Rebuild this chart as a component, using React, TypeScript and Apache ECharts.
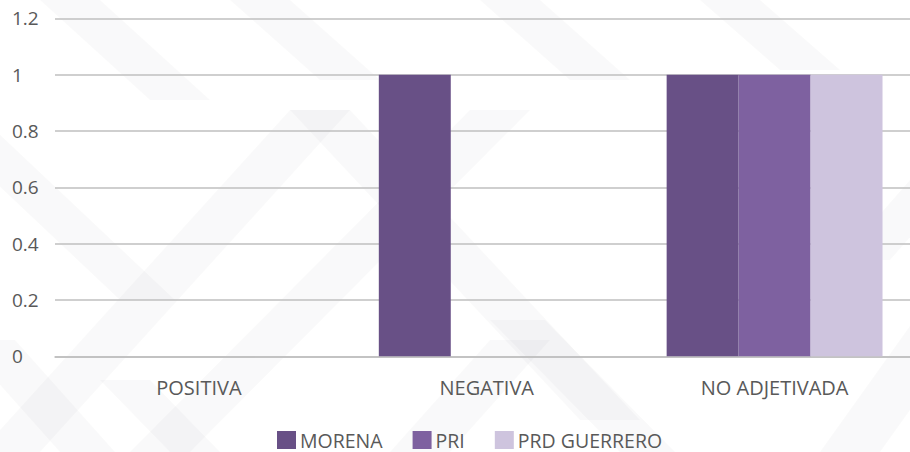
import React, { useEffect, useRef } from "react";
import * as echarts from "echarts";

const categories = ["POSITIVA", "NEGATIVA", "NO ADJETIVADA"];
const morena = [0, 1, 1];
const pri = [0, 0, 1];
const prdGuerrero = [0, 0, 1];
const seriesNames = ["MORENA", "PRI", "PRD GUERRERO"];
const colors = ["#685086", "#7e61a0", "#cec4de"];

const FONT = "'Open Sans', 'DejaVu Sans', sans-serif";

function band(x1: number, y1: number, x2: number, y2: number, w: number) {
  return {
    type: "polygon",
    z: -10,
    silent: true,
    shape: {
      points: [
        [x1, y1],
        [x1 + w, y1],
        [x2 + w, y2],
        [x2, y2],
      ],
    },
    style: { fill: "rgba(20,20,60,0.022)" },
  };
}

export default function App() {
  const ref = useRef<HTMLDivElement>(null);
  useEffect(() => {
    if (!ref.current) return;
    const chart = echarts.init(ref.current, undefined, { renderer: "svg" });
    const data = [morena, pri, prdGuerrero];
    chart.setOption({
      animation: false,
      backgroundColor: "#ffffff",
      graphic: [
        band(-20, 452, 290, 110, 60),
        band(130, 452, 470, 110, 60),
        band(390, 452, 490, 340, 60),
        band(820, 452, 1000, 200, 60),
        band(840, 260, 910, 180, 50),
        band(290, 110, 580, 420, 60),
        band(490, 320, 620, 452, 55),
        band(40, 0, 150, 100, 60),
        band(230, 0, 320, 80, 60),
        band(480, 0, 570, 80, 60),
        band(700, 0, 780, 70, 60),
        band(-40, 340, 60, 452, 55),
        band(100, 380, 170, 452, 50),
        band(-60, 130, 120, 300, 55),
      ],
      grid: {
        left: 55,
        right: -8.5,
        top: 18.3,
        bottom: 95.7,
        containLabel: false,
        outerBoundsMode: "none",
      },
      legend: {
        left: 277,
        top: 430,
        padding: 0,
        itemWidth: 19,
        itemHeight: 18,
        itemGap: 30,
        icon: "rect",
        data: seriesNames,
        textStyle: { fontFamily: FONT, fontSize: 19.5, color: "#595959", lineHeight: 18, padding: [0, 0, 0, -1] },
      },
      xAxis: {
        type: "category",
        data: categories,
        axisLine: { show: true, lineStyle: { color: "#bfbfbf", width: 1.5 } },
        axisTick: { show: false },
        axisLabel: { fontFamily: FONT, fontSize: 20, color: "#595959", margin: 21 },
      },
      yAxis: {
        type: "value",
        min: 0,
        max: 1.2,
        interval: 0.2,
        axisLine: { show: false },
        axisTick: { show: false },
        splitLine: { lineStyle: { color: "#bfbfbf", width: 1.5 } },
        axisLabel: {
          fontFamily: FONT,
          fontSize: 19,
          color: "#595959",
          align: "left",
          margin: 43,
          formatter: (v: number) => String(Math.round(v * 10) / 10),
        },
      },
      series: seriesNames.map((name, i) => ({
        name,
        type: "bar",
        data: data[i],
        barGap: "0%",
        barCategoryGap: "25%",
        itemStyle: { color: colors[i] },
      })),
    });
    return () => chart.dispose();
  }, []);
  return (
    <div
      ref={ref}
      style={{ position: "absolute", left: 0, top: 0, width: 910, height: 452 }}
    />
  );
}
